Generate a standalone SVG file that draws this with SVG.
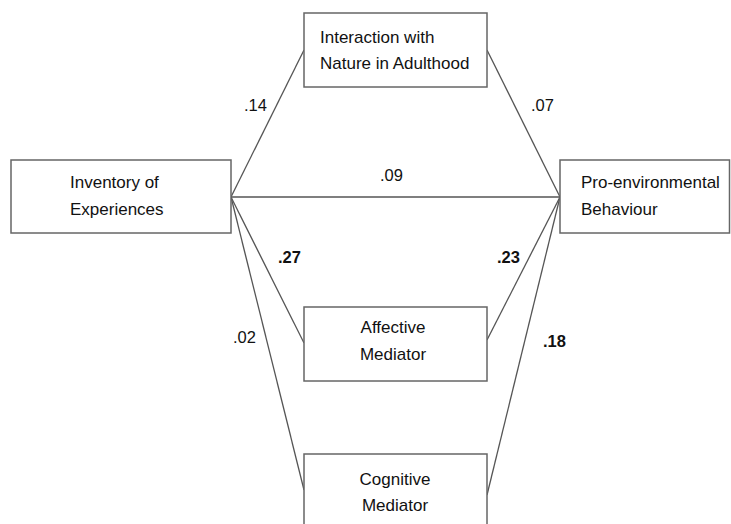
<svg xmlns="http://www.w3.org/2000/svg" width="731" height="524" viewBox="0 0 731 524">
<style>
.box{fill:#fff;stroke:#666;stroke-width:1.5}
.t{font-family:"Liberation Sans",Arial,sans-serif;font-size:17px;fill:#111}
.c{text-anchor:middle}
.lab{font-family:"Liberation Sans",Arial,sans-serif;font-size:16.5px;fill:#111}
.b{font-weight:bold}
.ln{stroke:#555;stroke-width:1.3;fill:none}
</style>
<rect width="731" height="524" fill="#fff"/>
<g id="connectors">
<line class="ln" x1="231" y1="197" x2="304" y2="50"/>
<line class="ln" x1="231" y1="197" x2="560" y2="197"/>
<line class="ln" x1="231" y1="197" x2="304" y2="343"/>
<line class="ln" x1="231" y1="197" x2="304" y2="490"/>
<line class="ln" x1="487" y1="50" x2="560" y2="197"/>
<line class="ln" x1="487" y1="340" x2="560" y2="197"/>
<line class="ln" x1="487" y1="495" x2="560" y2="197"/>
<text class="lab" x="244" y="111">.14</text>
<text class="lab" x="531" y="111">.07</text>
<text class="lab" x="380" y="181">.09</text>
<text class="lab b" x="278" y="263">.27</text>
<text class="lab b" x="497" y="263">.23</text>
<text class="lab" x="233" y="343">.02</text>
<text class="lab b" x="543" y="347">.18</text>
</g>
<g id="inventory">
<rect class="box" x="11" y="160" width="220" height="73"/>
<text class="t" x="70" y="188">Inventory of</text>
<text class="t" x="70" y="215">Experiences</text>
</g>
<g id="interaction">
<rect class="box" x="304" y="13" width="183" height="74"/>
<text class="t" x="320" y="43">Interaction with</text>
<text class="t" x="320" y="69">Nature in Adulthood</text>
</g>
<g id="proenv">
<rect class="box" x="560" y="160" width="169.5" height="73"/>
<text class="t" x="581" y="188">Pro-environmental</text>
<text class="t" x="581" y="215">Behaviour</text>
</g>
<g id="affective">
<rect class="box" x="304" y="307" width="183" height="74"/>
<text class="t c" x="393" y="333">Affective</text>
<text class="t c" x="393" y="360">Mediator</text>
</g>
<g id="cognitive">
<rect class="box" x="304" y="454" width="183" height="80"/>
<text class="t c" x="395" y="485">Cognitive</text>
<text class="t c" x="395" y="511">Mediator</text>
</g>
</svg>
